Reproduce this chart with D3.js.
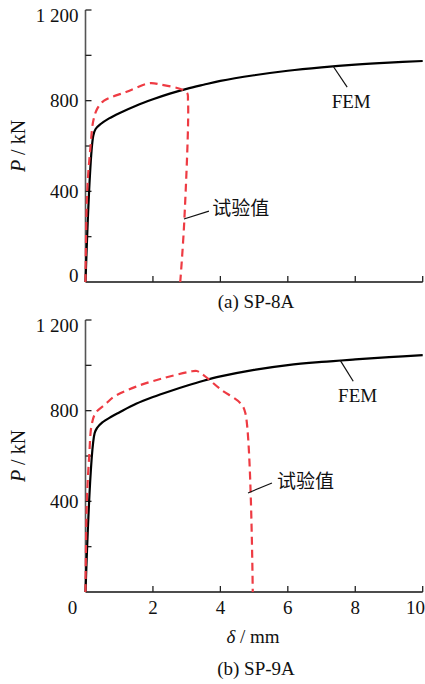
<!DOCTYPE html>
<html>
<head>
<meta charset="utf-8">
<script src="https://cdn.jsdelivr.net/npm/d3@7"></script>
<style>
  html, body { margin: 0; padding: 0; background: #fff; }
  svg { display: block; }
</style>
</head>
<body>
<svg id="chart" width="425" height="684" font-family="'Liberation Serif', 'DejaVu Serif', serif"></svg>
<script>
"use strict";

// x ticks (mm) and y ticks (kN)
const xTicks = [0, 2, 4, 6, 8, 10];
const yTicks = [0, 200, 400, 600, 800, 1000, 1200];
const yLabels = { 0: "0", 400: "400", 800: "800", 1200: "1 200" };

// (a) SP-8A
const fem8A = [[0, 0], [0.23, 645], [0.3, 675], [0.45, 697], [0.7, 722], [1, 745],
  [1.5, 778], [2, 806], [2.5, 831], [3, 852], [3.5, 870], [4, 887], [5, 912],
  [6, 932], [7, 947], [8, 959], [9, 968], [10, 975]];
const test8A = [[0, 0], [0.05, 400], [0.15, 600], [0.23, 710], [0.35, 765], [0.55, 800],
  [1.2, 838], [1.9, 877], [2.2, 872], [3.0, 837], [3.04, 800], [2.93, 270], [2.81, 0]];

// (b) SP-9A
const fem9A = [[0, 0], [0.27, 700], [0.35, 725], [0.5, 748], [0.75, 772], [1, 792],
  [1.5, 830], [2, 860], [2.5, 886], [3, 910], [3.5, 932], [4, 951], [5, 980],
  [6, 1001], [7, 1015], [8, 1026], [9, 1036], [10, 1045]];
const test9A = [[0, 0], [0.04, 400], [0.11, 600], [0.18, 735], [0.3, 790], [0.6, 830],
  [0.85, 862], [1.5, 906], [2.3, 943], [3.1, 972], [3.3, 975], [3.5, 957], [4.0, 895],
  [4.6, 832], [4.74, 790], [4.96, 0]];

// label annotations: [leader start, leader end, text anchor point] in data units
const notes8A = {
  fem: [[7.34, 953], [7.76, 860], [7.88, 768]],
  test: [[2.92, 278], [3.66, 313], [3.76, 324]]
};
const notes9A = {
  fem: [[7.55, 1023], [7.94, 930], [8.07, 838]],
  test: [[4.82, 437], [5.53, 481], [5.68, 487]]
};

const svg = d3.select("#chart");
const red = "#ee3b43";
const ink = "#111";

const x = d3.scaleLinear().domain([0, 10]).range([85.5, 422.7]);

function panel(top, bottom, fem, test, notes, caption, showX) {
  const y = d3.scaleLinear().domain([0, 1200]).range([bottom, top]);
  const g = svg.append("g");

  // axes
  g.append("line").attr("x1", x(0)).attr("x2", x(0)).attr("y1", y(0)).attr("y2", y(1200))
    .attr("stroke", "#555").attr("stroke-width", 1.6);
  g.append("line").attr("x1", x(0)).attr("x2", x(10)).attr("y1", y(0)).attr("y2", y(0))
    .attr("stroke", ink).attr("stroke-width", 1.4);

  // inward ticks
  g.selectAll(".yt").data(yTicks.filter(d => d > 0)).enter().append("line")
    .attr("x1", x(0)).attr("x2", x(0) + 6).attr("y1", d => y(d)).attr("y2", d => y(d))
    .attr("stroke", "#222").attr("stroke-width", 1.3);
  g.selectAll(".xt").data(xTicks.filter(d => d > 0)).enter().append("line")
    .attr("x1", d => x(d)).attr("x2", d => x(d)).attr("y1", y(0)).attr("y2", y(0) - 6)
    .attr("stroke", "#222").attr("stroke-width", 1.3);

  // y labels
  g.selectAll(".yl").data(Object.keys(yLabels).map(Number).filter(d => showX ? d > 0 : true))
    .enter().append("text")
    .attr("x", x(0) - 7)
    .attr("y", d => y(d))
    .attr("dy", d => d === 1200 ? "0.62em" : d === 0 ? "0" : "0.33em")
    .attr("text-anchor", "end")
    .attr("fill", ink)
    .style("font-size", "19px")
    .text(d => yLabels[d]);

  if (showX) {
    g.selectAll(".xl").data(xTicks).enter().append("text")
      .attr("x", d => d === 0 ? x(0) - 13 : d === 10 ? 425 : x(d))
      .attr("y", y(0) + 22)
      .attr("text-anchor", d => d === 10 ? "end" : "middle")
      .attr("fill", ink)
      .style("font-size", "19px")
      .text(d => d);
    const xt = g.append("text").attr("x", 253).attr("y", y(0) + 51)
      .attr("text-anchor", "middle").attr("fill", ink).style("font-size", "19px");
    xt.append("tspan").style("font-style", "italic").text("δ");
    xt.append("tspan").text(" / mm");
  }

  // y title
  const yt = g.append("text")
    .attr("transform", "translate(25," + y(600) + ") rotate(-90)")
    .attr("text-anchor", "middle").attr("fill", ink).style("font-size", "20px");
  yt.append("tspan").style("font-style", "italic").text("P");
  yt.append("tspan").text(" / kN");

  g.append("path").datum(fem)
    .attr("d", d3.line().x(d => x(d[0])).y(d => y(d[1])).curve(d3.curveCatmullRom.alpha(0.5)))
    .attr("fill", "none").attr("stroke", "#000").attr("stroke-width", 2.2)
    .attr("stroke-linejoin", "round");
  g.append("path").datum(test)
    .attr("d", d3.line().x(d => x(d[0])).y(d => y(d[1])).curve(d3.curveCatmullRom.alpha(0.5)))
    .attr("fill", "none").attr("stroke", red).attr("stroke-width", 2.2)
    .attr("stroke-dasharray", "8,5");

  // annotations
  [["fem", "FEM", "middle"], ["test", "试验值", "start"]].forEach(([k, label, anchor]) => {
    const n = notes[k];
    g.append("line").attr("x1", x(n[0][0])).attr("y1", y(n[0][1]))
      .attr("x2", x(n[1][0])).attr("y2", y(n[1][1]))
      .attr("stroke", ink).attr("stroke-width", 1.2);
    const t = g.append("text").attr("x", x(n[2][0])).attr("y", y(n[2][1]))
      .attr("text-anchor", anchor)
      .attr("dy", k === "fem" ? "0" : "0.36em")
      .attr("fill", ink)
      .style("font-size", "19px")
      .text(label);
    if (k === "test") t.attr("font-family", "'Noto Sans CJK SC', sans-serif");
  });

  g.append("text").attr("x", 256).attr("y", caption[1])
    .attr("text-anchor", "middle").attr("fill", ink).style("font-size", "19px").text(caption[0]);
}

panel(10, 282, fem8A, test8A, notes8A, ["(a) SP-8A", 308], false);
panel(320, 592, fem9A, test9A, notes9A, ["(b) SP-9A", 675], true);
</script>
</body>
</html>
